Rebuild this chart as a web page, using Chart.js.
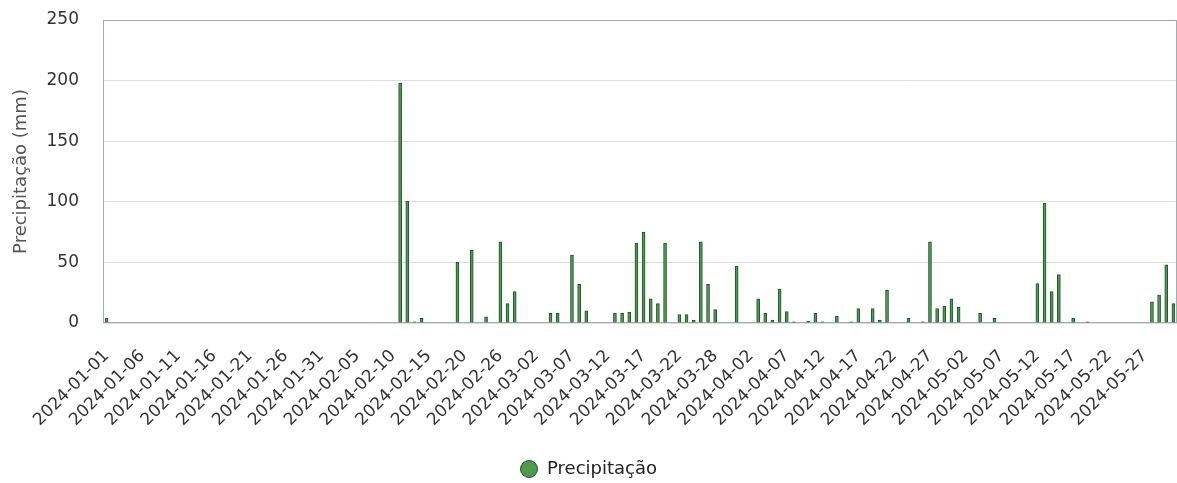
<!DOCTYPE html>
<html>
<head>
<meta charset="utf-8">
<script src="https://cdn.jsdelivr.net/npm/chart.js@4.4.1/dist/chart.umd.min.js"></script>
<style>
   html, body { margin:0; padding:0; background:#ffffff; }
   canvas { display:block; }
</style>
</head>
<body>
<canvas id="chuvaChart" width="1177" height="483"></canvas>
<script>

// periodo: 2024-01-01 .. 2024-05-31, dois dias sem registro
let startDate = "2024-01-01";
let endDate = "2024-05-31";
let missingDates = ["2024-02-23", "2024-03-25"];

// dias com chuva (mm)
let rainDates = [
   "2024-01-01",
   "2024-02-11","2024-02-12","2024-02-13","2024-02-14","2024-02-19",
   "2024-02-21","2024-02-24","2024-02-26","2024-02-27","2024-02-28",
   "2024-03-04","2024-03-05","2024-03-07","2024-03-08","2024-03-09",
   "2024-03-13","2024-03-14","2024-03-15","2024-03-16","2024-03-17",
   "2024-03-18","2024-03-19","2024-03-20","2024-03-22","2024-03-23",
   "2024-03-24","2024-03-26","2024-03-27","2024-03-28","2024-03-31",
   "2024-04-03","2024-04-04","2024-04-05","2024-04-06","2024-04-07",
   "2024-04-08","2024-04-10","2024-04-11","2024-04-12","2024-04-14",
   "2024-04-16","2024-04-17","2024-04-19","2024-04-20","2024-04-21",
   "2024-04-24","2024-04-26","2024-04-27","2024-04-28","2024-04-29",
   "2024-04-30","2024-05-01","2024-05-04","2024-05-06",
   "2024-05-12","2024-05-13","2024-05-14","2024-05-15","2024-05-17",
   "2024-05-19","2024-05-28","2024-05-29","2024-05-30","2024-05-31"
];

let rainValues = [
   4,
   198, 100.5, 1, 4, 50,
   60, 5, 67, 16, 26,
   8, 8, 56, 32, 10,
   8, 8, 9, 66, 75,
   20, 16, 66, 7, 7,
   2.5, 67, 32, 11, 47,
   20, 8, 2.5, 28, 9.5,
   1, 1.5, 8, 1, 5.5,
   1, 12, 12, 2.5, 27,
   4, 1, 67, 12, 14,
   20, 13, 8, 4,
   32.5, 99, 26, 40, 4,
   1, 17.5, 23, 48, 16
];

let yTicks = [0, 50, 100, 150, 200, 250];


function buildLabels(){

   let labels = [];
   let d = new Date(startDate + "T00:00:00Z");
   let end = new Date(endDate + "T00:00:00Z");

   while(d <= end){

      let s = d.toISOString().slice(0,10);

      if(missingDates.indexOf(s) === -1) labels.push(s);

      d.setUTCDate(d.getUTCDate() + 1);

   }

   return labels;

}

let labels = buildLabels();

let values = labels.map(function(day){

   let i = rainDates.indexOf(day);

   return i === -1 ? 0 : rainValues[i];

});


/* moldura da area do grafico */

const framePlugin = {

   id: "frame",

   beforeDatasetsDraw(chart){

      let a = chart.chartArea;
      let ctx = chart.ctx;

      ctx.save();
      ctx.strokeStyle = "#a3abbb";
      ctx.lineWidth = 1;
      ctx.strokeRect(a.left + 0.5, a.top + 0.5, a.right - a.left - 1, a.bottom - a.top - 1);
      ctx.restore();

   }

};


let ctx = document.getElementById("chuvaChart").getContext("2d");

new Chart(ctx, {

   type: "bar",

   data: {

      labels: labels,

      datasets: [{

         label: "Precipitação",
         data: values,

         backgroundColor: "#4f9a4c",
         borderColor: "#234f32",
         borderWidth: 1,
         barThickness: 3

      }]

   },

   options: {

      responsive: false,
      animation: false,

      layout: {
         padding: { left: 0, right: 0, top: 20, bottom: -5 }
      },

      plugins: {

         legend: {

            position: "bottom",

            labels: {
               usePointStyle: true,
               pointStyle: "circle",
               boxWidth: 18,
               boxHeight: 12,
               padding: 2,
               color: "#222222",
               font: { family: "DejaVu Sans", size: 18 }
            }

         },

         tooltip: { enabled: false }

      },

      scales: {

         x: {

            grid: { display: false },
            border: { display: false },

            afterFit: function(axis){
               axis.height = 135;
            },

            ticks: {
               autoSkip: false,
               maxRotation: 45,
               minRotation: 45,
               padding: 15,
               color: "#333333",
               font: { family: "DejaVu Sans", size: 17 },
               callback: function(value, index){
                  return index % 5 === 0 ? labels[index] : null;
               }
            }

         },

         y: {

            min: 0,
            max: 250,

            afterBuildTicks: function(axis){
               axis.ticks = yTicks.map(v => ({ value: v }));
            },

            afterFit: function(axis){
               axis.width = 103;
               axis.paddingTop = 0;
               axis.paddingBottom = 0;
            },

            grid: {
               color: "#dddddd",
               drawTicks: false
            },

            border: { display: false },

            ticks: {
               padding: 24,
               color: "#333333",
               font: { family: "DejaVu Sans", size: 17 }
            },

            title: {
               display: true,
               text: "Precipitação (mm)",
               color: "#555555",
               padding: { top: 11, bottom: 4 },
               font: { family: "DejaVu Sans", size: 18 }
            }

         }

      }

   },

   plugins: [framePlugin]

});

</script>
</body>
</html>
